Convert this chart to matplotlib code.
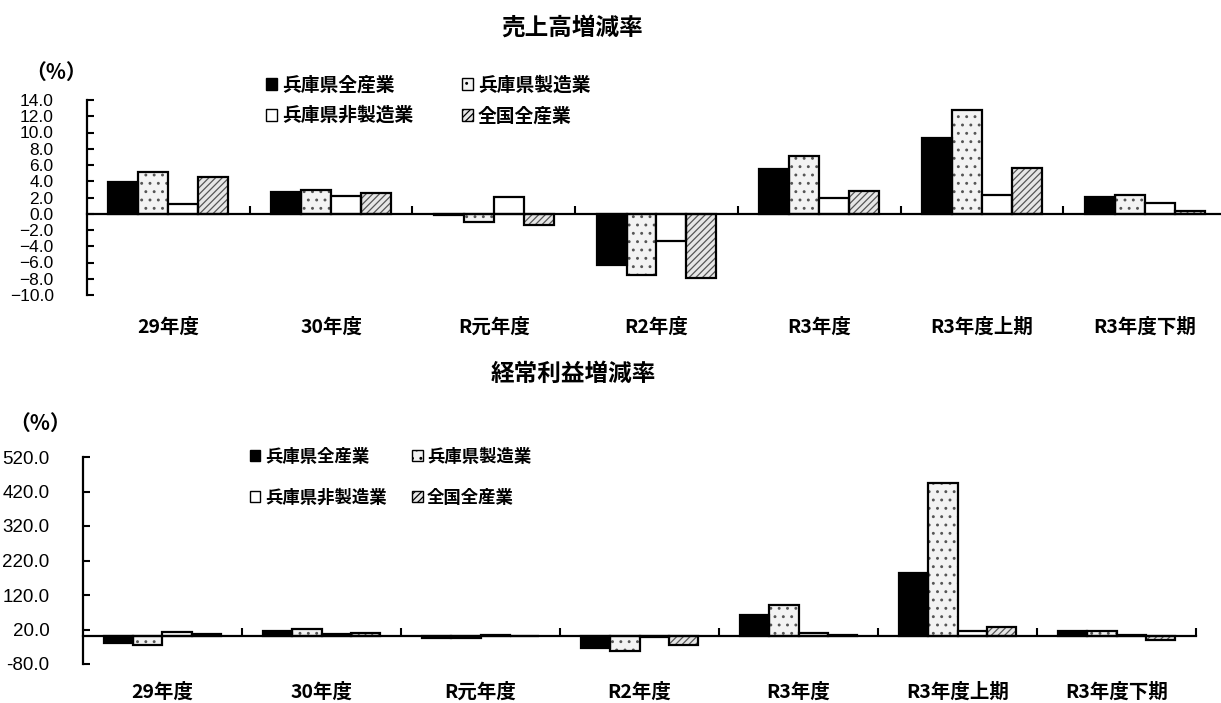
import numpy as np
import matplotlib
matplotlib.use('Agg')
import matplotlib.pyplot as plt
import matplotlib.transforms as mtransforms
from matplotlib.patches import Patch
from matplotlib.ticker import FixedLocator, FuncFormatter

plt.rcParams['font.family'] = ['Noto Sans CJK JP', 'DejaVu Sans']
plt.rcParams['hatch.linewidth'] = 0.9

categories = ['29年度', '30年度', 'R元年度', 'R2年度', 'R3年度', 'R3年度上期', 'R3年度下期']
series_names = ['兵庫県全産業', '兵庫県製造業', '兵庫県非製造業', '全国全産業']

# 売上高増減率 (%)
sales_hyogo_all = [3.9, 2.7, -0.2, -6.3, 5.5, 9.3, 2.1]
sales_hyogo_mfg = [5.2, 2.9, -1.0, -7.5, 7.1, 12.8, 2.3]
sales_hyogo_nonmfg = [1.2, 2.2, 2.1, -3.3, 1.9, 2.3, 1.3]
sales_japan_all = [4.5, 2.6, -1.4, -7.9, 2.8, 5.6, 0.3]

# 経常利益増減率 (%)
profit_hyogo_all = [-20, 17, -6, -33, 61, 185, 17]
profit_hyogo_mfg = [-26, 22, -5, -43, 92, 445, 15]
profit_hyogo_nonmfg = [13, 6, 3, -2, 10, 17, 5]
profit_japan_all = [7, 10, 2, -24, 5, 27, -10]

sales_ticks = list(range(-10, 15, 2))
profit_ticks = list(range(-80, 521, 100))

styles = [
    dict(face='black', hatch=None),
    dict(face='#f3f3f3', hatch='..'),
    dict(face='white', hatch=None),
    dict(face='#e6e6e6', hatch='/////'),
]

fig = plt.figure(figsize=(12.21, 7.03), dpi=100)


def draw_chart(ax, series, ticks, minus, tick_font, tick_size):
    x = np.arange(len(categories)) + 0.5
    w = 0.184
    for i, vals in enumerate(series):
        pos = x + (i - 1.5) * w
        st = styles[i]
        if st['hatch']:
            ax.bar(pos, vals, width=w, color=st['face'], hatch=st['hatch'],
                   edgecolor='#555555', linewidth=0, zorder=2)
            ax.bar(pos, vals, width=w, fill=False, edgecolor='black',
                   linewidth=1.6, zorder=3)
        else:
            ax.bar(pos, vals, width=w, color=st['face'], edgecolor='black',
                   linewidth=1.6, zorder=3)

    ax.set_xlim(0, len(categories))
    ax.set_ylim(ticks[0], ticks[-1])
    for s in ['top', 'right']:
        ax.spines[s].set_visible(False)
    ax.spines['left'].set_linewidth(1.6)
    ax.spines['bottom'].set_position(('data', 0))
    ax.spines['bottom'].set_linewidth(1.6)
    ax.spines['bottom'].set_zorder(4)

    ax.xaxis.set_major_locator(FixedLocator(np.arange(1, len(categories) + 1)))
    ax.tick_params(axis='x', direction='in', length=6, width=1.5, labelbottom=False)
    ax.yaxis.set_major_locator(FixedLocator(ticks))
    ax.yaxis.set_major_formatter(FuncFormatter(
        lambda v, p: f'{v:.1f}'.replace('-', minus)))
    ax.tick_params(axis='y', direction='in', length=5, width=1.5, pad=24)
    for lab in ax.get_yticklabels():
        lab.set_fontfamily(tick_font)
        lab.set_fontsize(tick_size)
        lab.set_horizontalalignment('right')
    return x


def add_labels(ax, x, y_px):
    trans = mtransforms.blended_transform_factory(ax.transData, fig.transFigure)
    for xi, c in zip(x, categories):
        ax.text(xi, 1 - y_px / 703, c, transform=trans, ha='center', va='center',
                fontsize=14, fontweight='bold')


def add_legend(anchor, colspace, rowspace, size):
    handles = []
    for st in styles:
        handles.append(Patch(facecolor=st['face'], hatch=st['hatch'],
                             edgecolor='black', linewidth=1.0))
    order = [0, 2, 1, 3]
    fig.legend([handles[i] for i in order], [series_names[i] for i in order],
               ncol=2, loc='upper left', bbox_to_anchor=anchor,
               frameon=False, borderpad=0, borderaxespad=0,
               handlelength=0.6, handleheight=0.6, handletextpad=0.25,
               columnspacing=colspace, labelspacing=rowspace,
               prop=dict(size=size, weight='bold'))


# top chart: 売上高増減率
ax1 = fig.add_axes([87 / 1221, 1 - 295 / 703, 1139 / 1221, 195 / 703])
series1 = [sales_hyogo_all, sales_hyogo_mfg, sales_hyogo_nonmfg, sales_japan_all]
x1 = draw_chart(ax1, series1, sales_ticks, '\u2212',
                ['Liberation Sans Narrow', 'Liberation Sans'], 12.5)
add_labels(ax1, x1, 327)
add_legend((266 / 1221, 1 - 76 / 703), 2.6, 0.6, 13.5)
fig.text(572 / 1221, 1 - 28 / 703, '売上高増減率', ha='center', va='center',
         fontsize=17, fontweight='bold')
fig.text(56 / 1221, 1 - 72 / 703, '（%）', ha='center', va='center',
         fontsize=15, fontweight='bold')

# bottom chart: 経常利益増減率
ax2 = fig.add_axes([83 / 1221, 1 - 664 / 703, 1113 / 1221, 207 / 703])
series2 = [profit_hyogo_all, profit_hyogo_mfg, profit_hyogo_nonmfg, profit_japan_all]
x2 = draw_chart(ax2, series2, profit_ticks, '-', ['Liberation Sans'], 13.5)
add_labels(ax2, x2, 692)
add_legend((250 / 1221, 1 - 448 / 703), 1.5, 1.3, 12.5)
fig.text(573 / 1221, 1 - 374 / 703, '経常利益増減率', ha='center', va='center',
         fontsize=17, fontweight='bold')
fig.text(40 / 1221, 1 - 423 / 703, '（%）', ha='center', va='center',
         fontsize=15, fontweight='bold')

fig.savefig('out.png', dpi=100)
